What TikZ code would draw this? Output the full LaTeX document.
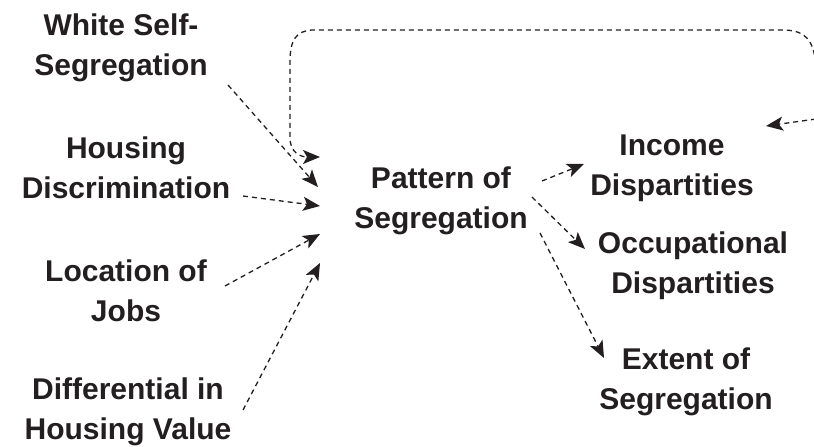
\documentclass[tikz,border=0pt]{standalone}
\usepackage{fontspec}
\setmainfont{Liberation Sans}[BoldFont={Liberation Sans Bold}]
\usetikzlibrary{arrows.meta}
\definecolor{ink}{HTML}{231F20}
\begin{document}
\begin{tikzpicture}[x=1pt,y=-1pt,
  lbl/.style={font=\fontsize{30}{40}\selectfont\bfseries, text=ink, align=center, inner sep=0pt},
  arr/.style={draw=ink, line width=1.3pt, dash pattern=on 5pt off 4pt, -{Stealth[length=17pt,width=14pt,inset=4pt]}}]
\useasboundingbox (0,0) rectangle (814,447);
\clip (0,0) rectangle (814,447);
\node[lbl] (white) at (121,48) {White Self-\\Segregation};
\node[lbl] (hdisc) at (126,168) {Housing\\Discrimination};
\node[lbl] (jobs) at (126,291) {Location of\\Jobs};
\node[lbl] (diff) at (128,412) {Differential in\\Housing Value};
\node[lbl] (pat) at (441,201) {Pattern of\\Segregation};
\node[lbl] (inc) at (672,168) {Income\\Dispartities};
\node[lbl] (occ) at (693,266) {Occupational\\Dispartities};
\node[lbl] (ext) at (686,382) {Extent of\\Segregation};
% connector ends
\coordinate (wS) at (228,85);   \coordinate (wE) at (318,187);
\coordinate (hS) at (243,196);  \coordinate (hE) at (320,206);
\coordinate (jS) at (225,286);  \coordinate (jE) at (320,234);
\coordinate (dS) at (243,410);  \coordinate (dE) at (320,263);
\coordinate (iS) at (542,181);  \coordinate (iE) at (584,164);
\coordinate (oS) at (532,197);  \coordinate (oE) at (585,249);
\coordinate (eS) at (540,233);  \coordinate (eE) at (604,358);
\coordinate (fbS) at (816,64);  \coordinate (fbE) at (320,157);
\coordinate (fiS) at (816,119); \coordinate (fiE) at (766,126);
\draw[arr] (wS) -- (wE);
\draw[arr] (hS) -- (hE);
\draw[arr] (jS) -- (jE);
\draw[arr] (dS) -- (dE);
\draw[arr] (iS) -- (iE);
\draw[arr] (oS) -- (oE);
\draw[arr] (eS) -- (eE);
\draw[arr] (fbS) .. controls (813,40) and (806,31) .. (785,30) -- (312,30)
  .. controls (296,31) and (290,40) .. (290,62) -- (290,138)
  .. controls (290,152) and (300,157) .. (fbE);
\draw[arr] (fiS) -- (fiE);
\end{tikzpicture}
\end{document}
